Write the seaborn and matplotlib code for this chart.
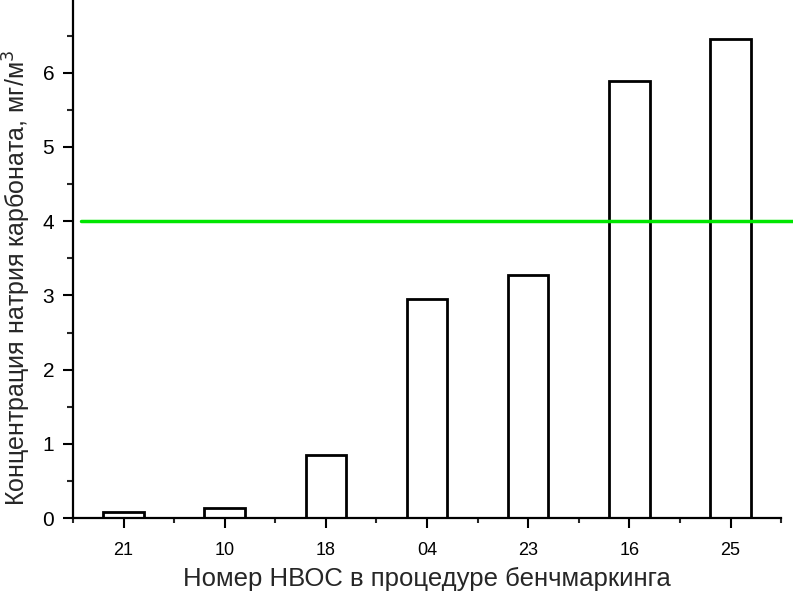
import matplotlib
matplotlib.use("Agg")
import matplotlib.pyplot as plt
import seaborn as sns
import pandas as pd
from matplotlib.ticker import MultipleLocator, FixedLocator

categories = ["21", "10", "18", "04", "23", "16", "25"]
values = [0.08, 0.14, 0.85, 2.95, 3.27, 5.89, 6.46]
threshold = 4.0

df = pd.DataFrame({"cat": categories, "val": values})

sns.set_theme(style="white")
plt.rcParams["font.family"] = ["Liberation Sans", "DejaVu Sans"]

fig = plt.figure(figsize=(7.93, 5.99), dpi=100)
ax = fig.add_axes([0.092, 0.135, 0.893, 0.865])

sns.barplot(data=df, x="cat", y="val", order=categories, color="white",
            edgecolor="black", linewidth=2, width=0.4, ax=ax, saturation=1)

ax.plot([-0.42, 6.62], [threshold, threshold], color="#00e600", lw=2.5,
        clip_on=False, zorder=5)

ax.set_xlim(-0.5, 6.5)
ax.set_ylim(0, 6.98)
ax.yaxis.set_major_locator(MultipleLocator(1))
ax.yaxis.set_minor_locator(MultipleLocator(0.5))
ax.xaxis.set_minor_locator(FixedLocator([i - 0.5 for i in range(8)]))

for s in ["top", "right"]:
    ax.spines[s].set_visible(False)
for s in ["left", "bottom"]:
    ax.spines[s].set_linewidth(1.6)
    ax.spines[s].set_color("black")

ax.tick_params(axis="x", which="major", direction="out", length=7.2, width=1.5,
               pad=10, labelsize=13, bottom=True, colors="black")
ax.tick_params(axis="x", which="minor", direction="out", length=3.6, width=1.5,
               bottom=True)
ax.tick_params(axis="y", which="major", direction="out", length=7.5, width=1.5,
               pad=6, labelsize=15, left=True, colors="black")
ax.tick_params(axis="y", which="minor", direction="out", length=4, width=1.5,
               left=True)

ax.set_xlabel("Номер НВОС в процедуре бенчмаркинга", fontsize=18.5, labelpad=6)
ax.set_ylabel("Концентрация натрия карбоната, мг/м$^3$", fontsize=18)
ax.yaxis.set_label_coords(-0.057, 0.463)
ax.grid(False)

fig.savefig("out.png", dpi=100)
